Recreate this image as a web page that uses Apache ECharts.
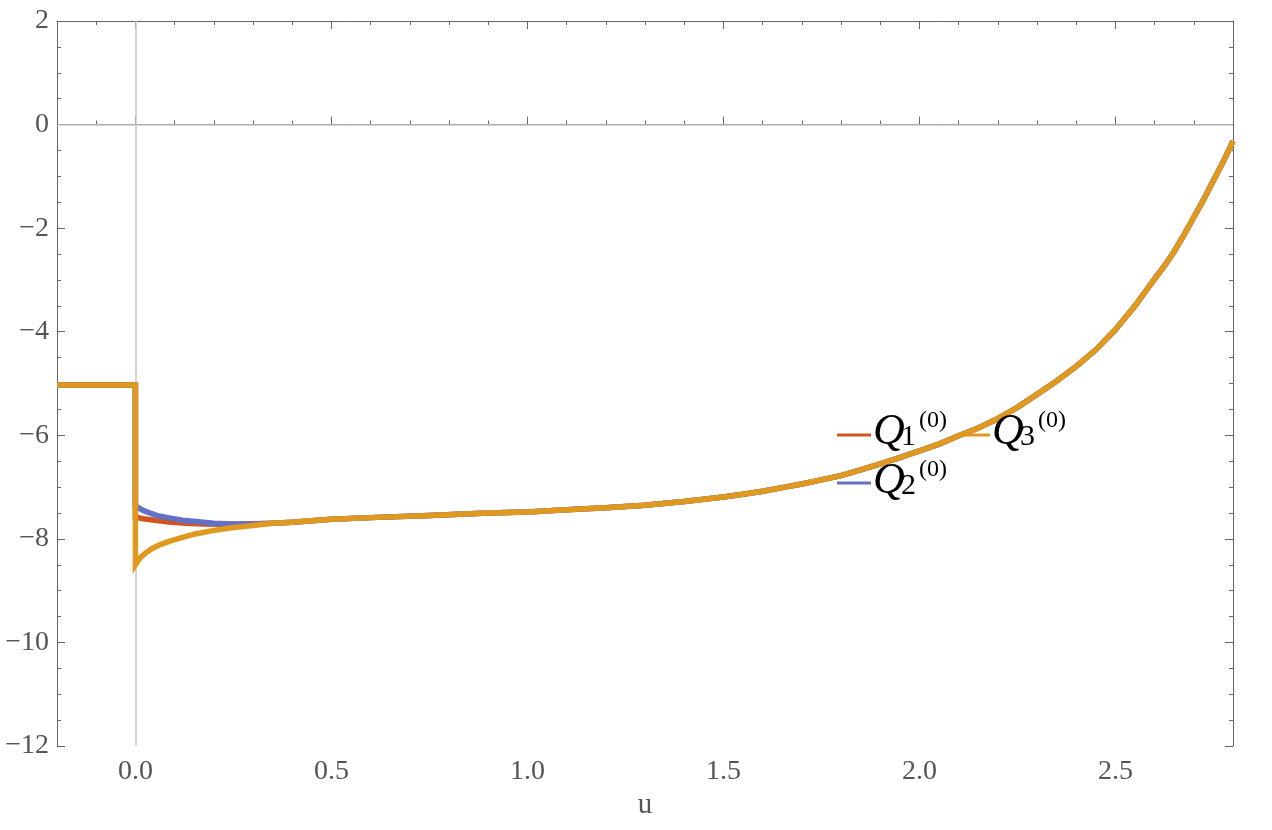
<!DOCTYPE html>
<html>
<head>
<meta charset="utf-8">
<script src="https://cdn.jsdelivr.net/npm/echarts@6/dist/echarts.min.js"></script>
<style>
  html, body { margin: 0; padding: 0; background: #fff; }
  #chart { width: 1272px; height: 830px; }
</style>
</head>
<body>
<div id="chart"></div>
<script>
// ---------------- data ----------------
const seriesNames = ['Q1', 'Q2', 'Q3'];
const subscripts = ['1', '2', '3'];

// constant part for u < 0 (shared by all three curves)
const stepU = [-0.2, 0];
const stepV = [-5.03, -5.03];

// transient right after u = 0
const q1U = [0, 0.02, 0.05, 0.09, 0.13, 0.17, 0.22, 0.28];
const q1V = [-7.58, -7.61, -7.64, -7.68, -7.70, -7.715, -7.72, -7.715];

const q2U = [0, 0.01, 0.02, 0.04, 0.06, 0.09, 0.12, 0.16, 0.2, 0.25, 0.3];
const q2V = [-7.36, -7.41, -7.45, -7.51, -7.56, -7.60, -7.64, -7.67, -7.70, -7.715, -7.715];

const q3U = [0, 0.007, 0.013, 0.025, 0.04, 0.06, 0.09, 0.12, 0.15, 0.19, 0.24, 0.3];
const q3V = [-8.50, -8.42, -8.36, -8.28, -8.20, -8.12, -8.04, -7.97, -7.91, -7.85, -7.79, -7.74];

// common tail where the three curves coincide
const tailU = [0.35, 0.4, 0.5, 0.6, 0.75, 0.9, 1.0, 1.1, 1.2, 1.3, 1.4, 1.5, 1.55, 1.6, 1.65, 1.7, 1.75, 1.8,
               1.85, 1.9, 1.95, 2.0, 2.05, 2.1, 2.15, 2.2, 2.25, 2.3, 2.35, 2.4, 2.45, 2.5, 2.55, 2.6,
               2.625, 2.65, 2.675, 2.7, 2.725, 2.75, 2.775, 2.8];
const tailV = [-7.70, -7.68, -7.62, -7.59, -7.55, -7.50, -7.48, -7.44, -7.40, -7.35, -7.28, -7.19, -7.14, -7.08, -7.01, -6.94, -6.86, -6.78,
               -6.67, -6.55, -6.43, -6.30, -6.17, -6.01, -5.86, -5.68, -5.46, -5.21, -4.95, -4.67, -4.35, -3.96, -3.50, -2.98,
               -2.73, -2.45, -2.13, -1.79, -1.45, -1.08, -0.72, -0.32];

// axis tick labels
const xMajorTicks = [0, 0.5, 1.0, 1.5, 2.0, 2.5];
const yMajorTicks = [-12, -10, -8, -6, -4, -2, 0, 2];

// ---------------- build ----------------
function pairs(us, vs) { return us.map((u, i) => [u, vs[i]]); }
function fullCurve(tu, tv) {
  return pairs(stepU, stepV).concat(pairs(tu, tv)).concat(pairs(tailU, tailV));
}
const curves = [fullCurve(q1U, q1V), fullCurve(q2U, q2V), fullCurve(q3U, q3V)];
const colors = ['#D0561E', '#6271C6', '#E0991F'];

const FRAME = '#666';
const LABEL = '#555';
const FONT = 'Liberation Serif';

function xAxisDef(pos, major, showLabel) {
  const a = {
    type: 'value', min: -0.2, max: 2.8, position: pos,
    splitLine: { show: false },
    axisLine: { show: !major, lineStyle: { color: FRAME, width: 1 } },
    axisTick: { show: true, inside: true, length: major ? 8 : 4, lineStyle: { color: FRAME } },
    axisLabel: { show: false }
  };
  if (major) {
    a.axisTick.customValues = xMajorTicks;
    a.axisLabel = {
      show: showLabel, customValues: xMajorTicks,
      formatter: v => v.toFixed(1),
      color: LABEL, fontFamily: FONT, fontSize: 28,
      verticalAlign: 'middle', margin: 26
    };
    if (showLabel) {
      a.name = 'u';
      a.nameLocation = 'middle';
      a.nameGap = 58;
      a.nameTextStyle = { color: LABEL, fontFamily: FONT, fontSize: 29, verticalAlign: 'middle' };
    }
  } else {
    a.interval = 0.1;
  }
  return a;
}

function yAxisDef(pos, showLabel) {
  return {
    type: 'value', min: -12, max: 2, interval: 2, position: pos,
    splitLine: { show: false },
    axisLine: { show: true, onZero: false, lineStyle: { color: FRAME, width: 1 } },
    axisTick: { show: true, inside: true, length: 8, lineStyle: { color: FRAME } },
    minorTick: { show: true, splitNumber: 4, length: 4, lineStyle: { color: FRAME } },
    axisLabel: {
      show: showLabel, color: LABEL, fontFamily: FONT, fontSize: 28, margin: 8,
      formatter: v => (v < 0 ? '\u2212' + Math.abs(v) : String(v))
    }
  };
}

const series = curves.map((d, i) => {
  const s = {
    name: seriesNames[i], type: 'line', data: d, showSymbol: false, symbol: 'none',
    xAxisIndex: 0, yAxisIndex: 0,
    lineStyle: { color: colors[i], width: 5.5, cap: 'butt', join: 'miter' },
    itemStyle: { color: colors[i] },
    z: 3 + i, animation: false
  };
  if (i === 0) {
    s.markLine = {
      silent: true, symbol: 'none', label: { show: false }, animation: false,
      lineStyle: { color: '#c8c8c8', width: 1.5, type: 'solid' },
      data: [{ xAxis: 0 }, { yAxis: 0 }]
    };
  }
  return s;
});

// legend drawn as graphic elements
const legendPos = [
  { lx: 837, ly: 435, tx: 873, ty: 432 },
  { lx: 837, ly: 483, tx: 873, ty: 481 },
  { lx: 956, ly: 435, tx: 992, ty: 432 }
];
const graphics = [];
legendPos.forEach((p, i) => {
  graphics.push({
    type: 'line', shape: { x1: p.lx, y1: p.ly, x2: p.lx + 34, y2: p.ly },
    style: { stroke: colors[i], lineWidth: 3 }, z: 100
  });
  graphics.push({
    type: 'text', x: p.tx, y: p.ty, z: 100,
    style: { text: 'Q', font: 'italic 44px "Liberation Serif"', fill: '#000',
             align: 'left', verticalAlign: 'middle' }
  });
  graphics.push({
    type: 'text', x: p.tx + 28, y: p.ty + 5, z: 100,
    style: { text: subscripts[i], font: '30px "Liberation Serif"', fill: '#000',
             align: 'left', verticalAlign: 'middle' }
  });
  graphics.push({
    type: 'text', x: p.tx + 46, y: p.ty - 11, z: 100,
    style: { text: '(0)', font: '24px "Liberation Serif"', fill: '#000',
             align: 'left', verticalAlign: 'middle' }
  });
});

const chart = echarts.init(document.getElementById('chart'), null, { renderer: 'canvas' });
chart.setOption({
  animation: false,
  backgroundColor: '#fff',
  grid: { left: 57, right: 39, top: 21, bottom: 84, containLabel: false },
  xAxis: [
    xAxisDef('bottom', true, true),
    xAxisDef('bottom', false, false),
    xAxisDef('top', true, false),
    xAxisDef('top', false, false)
  ],
  yAxis: [yAxisDef('left', true), yAxisDef('right', false)],
  series: series,
  graphic: graphics
});
</script>
</body>
</html>
